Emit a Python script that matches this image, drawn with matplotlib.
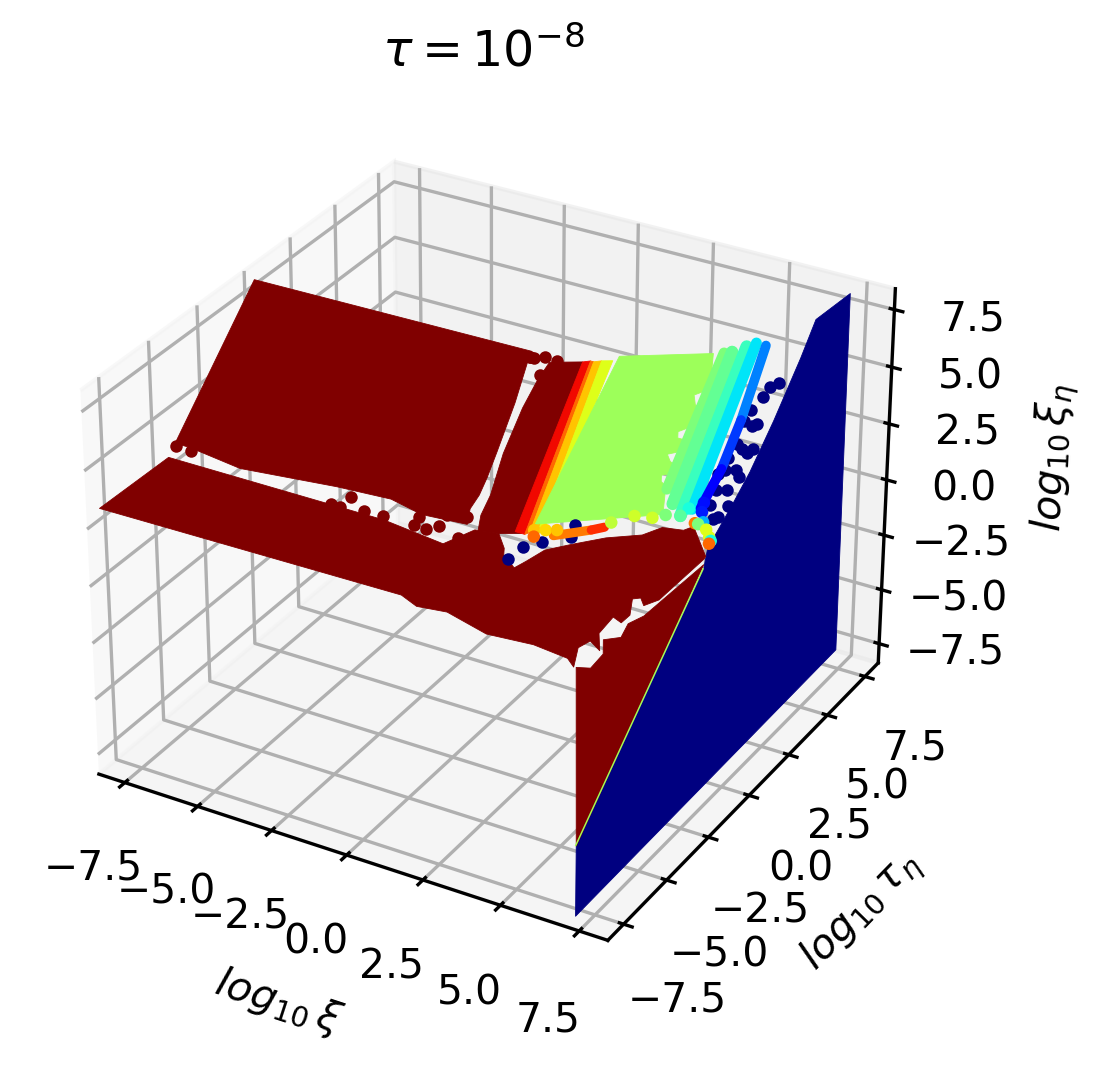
import numpy as np
import matplotlib
matplotlib.use("Agg")
import matplotlib.pyplot as plt
from mpl_toolkits.mplot3d.art3d import Poly3DCollection

tick_values = [-7.5, -5, -2.5, 0, 2.5, 5, 7.5]

# sheets of points: (log10 xi, log10 tau_eta, log10 xi_eta) outlines
blue_sheet = [(7.2,7.9,8.1),(7.2,5.7,8.3),(7.2,4.8,7.2),(7.2,3.2,5.5),(7.2,1.8,4.2),(7.2,0.8,3.5),(7.2,-0.3,2.8),(7.2,-0.7,2.5),(7.2,-0.9,1.8),(7.2,-8.1,-5),(7.2,-8.1,-8.1),(7.2,7.9,-7.9)]
lower_sheet = [(-8.1,-8.2,3.4),(-7.2,-6,4.5),(-4.5,-6,4.5),(-1.9,-6,4.5),(-0.1,-6,4.5),(0.9,-6.1,4.45),(1.9,-6.2,4.4),(2.5,-5.5,4.75),(3.2,-5.4,4.8),(3.6,-5.8,4.6),(3.7,-6,4.5),(4.2,-6.3,4.35),(4.4,-6,4.5),(4.7,-5.5,4.75),(5.3,-5.1,4.95),(6.1,-4.6,5.2),(7,-4.2,5.4),(7.4,-3.8,5.6),(8,-3.7,5.65),(8.2,-3.5,5.75),(8.7,-4,5.5),(9,-4.3,5.35),(9,-4.4,5.3),(8.5,-6,4.5),(8.2,-6.3,4.35),(8,-6.1,4.45),(7.8,-6.2,4.4),(8,-6.7,4.15),(7.9,-7,4),(7.6,-6.9,4.05),(7.5,-7.5,3.75),(7.8,-8,3.5),(7.4,-7.8,3.6),(7.2,-8.1,3.45),(7.4,-8.7,3.15),(7.1,-8.5,3.25),(6,-8.4,3.3),(4.6,-8.5,3.25),(3.2,-8.2,3.4),(2.3,-8.3,3.35),(1.7,-8.1,3.45)]
front_sheet = [(7.2,-8.1,-5),(7.2,-8.2,2.7),(7.2,-7.4,2.1),(7.2,-6.7,2.2),(7.2,-6.7,2.8),(7.2,-5.7,2.2),(7.2,-5.3,2.5),(7.2,-4.4,2.2),(7.2,-0.9,2)]
upper_sheet = [(-8.4,0.5,7.75),(0.8,0.6,7.8),(0.9,0.2,7.6),(1.3,-1.2,6.9),(1.7,-2.9,6.05),(1.9,-3.8,5.6),(2,-4.4,5.3),(2,-4.9,5.05),(2.2,-5.4,4.8),(0.8,-5.5,4.75),(-0.3,-5.3,4.85),(-2,-5.4,4.8),(-5,-5.7,4.65),(-6.8,-5.5,4.75),(-7.3,-5.5,4.75)]
red_strip = [(1.5,0.4,7.7),(2.4,0.7,7.85),(3.8,-5.2,4.9),(3.2,-5.4,4.8),(2.6,-5.5,4.75),(2.4,-5,5),(2.3,-4.3,5.35),(1.9,-2.9,6.05),(1.6,-1.3,6.85),(1.5,-0.3,7.35)]
band_red = [(3.6,-5.2,4.9),(2.4,0.7,7.85),(2.6,0.8,7.9),(3.9,-5.2,4.9)]
band_orange = [(3.9,-5.2,4.9),(2.6,0.8,7.9),(2.7,0.8,7.9),(4,-5.1,4.95)]
band_yellow = [(4,-5.1,4.95),(2.7,0.8,7.9),(2.9,0.9,7.95),(4.2,-5,5)]
band_lime = [(4.2,-5,5),(2.9,0.9,7.95),(3.2,1,8),(4.3,-4.8,5.1)]
green_sheet = [(3.3,1.2,8.1),(5.8,2.1,8.55),(6.2,1.2,8.1),(6.2,0.8,7.9),(6,0.6,7.8),(6.2,0.3,7.65),(6.4,0.2,7.6),(6.5,-0.4,7.3),(6.2,-0.7,7.15),(6.3,-0.9,7.05),(6.7,-0.9,7.05),(6.6,-1.3,6.85),(6.3,-1.5,6.75),(6.5,-1.7,6.65),(6.8,-1.8,6.6),(6.7,-2.1,6.45),(6.5,-2.2,6.4),(6.6,-2.4,6.3),(6.8,-2.5,6.25),(7.2,-3.4,5.8),(4,-4.8,5.1)]

sheets = [blue_sheet, lower_sheet, front_sheet, upper_sheet, red_strip, band_red, band_orange, band_yellow, band_lime, green_sheet]
sheet_values = [0.0, 1.0, 1.0, 1.0, 1.0, 0.9, 0.8, 0.7, 0.62, 0.54]

# dense rows of points
rows = [[(6.1,2.2,8.6),(6.9,-2.6,6.2)],[(6.3,2.3,8.65),(7.3,-3,6)],[(6.6,2.6,8.8),(7.7,-3.3,5.85)],[(6.8,2.8,8.9),(7.9,-3,6)],
        [(7.1,2.8,8.9),(7.7,0.2,7.6)],[(7.7,0.2,7.6),(8,-1.5,6.75)],[(8,-1.5,6.75),(8.1,-2.9,6.05)],
        [(4.7,-5,5),(5.6,-4.5,5.25)],[(5.6,-4.5,5.25),(5.9,-4.3,5.35)]]
row_values = [0.5, 0.47, 0.42, 0.35, 0.25, 0.18, 0.12, 0.78, 0.86]
row_widths = [2.6, 3.0, 3.0, 2.6, 2.3, 2.3, 2.3, 2.2, 2.2]
seam = [(7.2,-8.1,-5),(7.2,-0.9,1.8)]

# isolated points
blue_x = [8.1,7.9,7.9,7.8,7.8,8.1,8.2,8,8.2,8.5,8.4,8,8.1,8.4,8,8.2,8.5,8.6,8.3,8.8,8.6,8.7,5.1,4.5,5.2,4.1,3.9]
blue_y = [1.7,1.5,1.1,0.6,0.2,0.1,0.2,-0.6,-0.7,-0.6,-0.8,-1.1,-1.5,-1.4,-1.7,-2.2,-2.1,-1.6,-2.7,-2.6,-3.1,-3,-4.5,-5.3,-4.9,-5.6,-6.1]
blue_z = [8.35,8.25,8.05,7.8,7.6,7.55,7.6,7.2,7.15,7.2,7.1,6.95,6.75,6.8,6.65,6.4,6.45,6.7,6.15,6.2,5.95,6,5.25,4.85,5.05,4.7,4.45]
mix_x = [8.2,8.3,8.4,8.6,8.8,8.9,8.9,6,6.5,7,7.3,7.7,7.8,8.2,8.1,4.4,4.2,4.1,4.7]
mix_y = [-3.4,-3.4,-3.3,-3.5,-3.7,-3.8,-3.9,-4.1,-3.7,-3.6,-3.4,-3.3,-3,-3,-2.7,-4.9,-5.2,-5,-4.8]
mix_z = [5.8,5.8,5.85,5.75,5.65,5.6,5.55,5.45,5.65,5.7,5.8,5.85,6,6,6.15,5.05,4.9,5,5.1]
mix_c = [.78,.5,.3,.62,.62,.38,.8,.58,.6,.6,.5,.46,.38,.15,.14,.68,.8,.7,.7]
red_x = [-7.2,-1.4,-0.8,-0.2,-1.8,-1.5,0.8,1.2,1.5,0.8,1.5,0.9,2.1,2.2,-6.7,0.9,1.3,1.5,1.7,1]
red_y = [-5.6,-5.6,-5.9,-5.9,-6,-6,-5.6,-5.9,-5.7,-5.9,-5.3,0.4,-5.2,-5.9,-5.6,0.4,0.5,-0.1,0.5,0.4]
red_z = [4.7,4.7,4.55,4.55,4.5,4.5,4.7,4.55,4.65,4.55,4.85,7.7,4.9,4.55,4.7,7.7,7.75,7.45,7.75,7.7]

plt.rcParams['font.size'] = 9.8
W, H = 1112, 1077
fig = plt.figure(figsize=(W/300, H/300), dpi=300)
s = 912
ax = fig.add_axes([(483.5-s/2)/W, (H-544.5-s*0.9935/2)/H, s/W, s*0.9935/H], projection='3d')
ax.computed_zorder = False
cm = matplotlib.colormaps['jet']
for pts, v in zip(sheets, sheet_values):
    ax.add_collection3d(Poly3DCollection([pts], facecolors=[cm(v)], edgecolors=[cm(v)], linewidths=0.2, zorder=2 if v > 0 else 1))
ax.plot(*np.array(seam).T, color=cm(0.55), lw=0.35, zorder=4)
for pts, v, w in zip(rows, row_values, row_widths):
    ax.plot(*np.array(pts).T, color=cm(v), lw=w, solid_capstyle='round', zorder=5)
ax.scatter(blue_x, blue_y, blue_z, c=[cm(0.0)], s=9, linewidths=0, depthshade=False, zorder=4.5)
ax.scatter(mix_x, mix_y, mix_z, c=mix_c, cmap='jet', vmin=0, vmax=1, s=9, linewidths=0, depthshade=False, zorder=7)
ax.scatter(red_x, red_y, red_z, c=[cm(1.0)], s=9, linewidths=0, depthshade=False, zorder=3)
lim = 8.4
ax.set_xlim(-lim, lim); ax.set_ylim(-lim, lim); ax.set_zlim(-lim, lim)
ax.set_xticks(tick_values); ax.set_yticks(tick_values); ax.set_zticks(tick_values)
ax.set_xlabel(r'$log_{10}\,\xi$'); ax.set_ylabel(r'$log_{10}\,\tau_\eta$'); ax.set_zlabel(r'$log_{10}\,\xi_\eta$')
ax.set_title(r'$\tau = 10^{-8}$')
fig.savefig('out.png', dpi=300)
